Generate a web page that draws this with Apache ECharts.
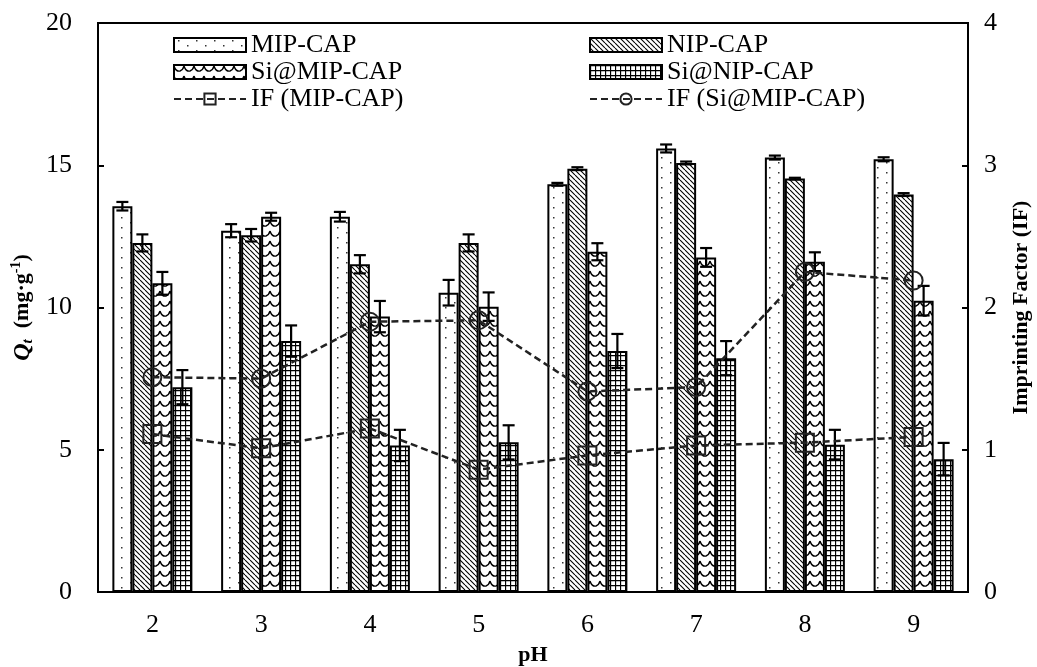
<!DOCTYPE html>
<html>
<head>
<meta charset="utf-8">
<title>Qt vs pH</title>
<script src="https://cdn.jsdelivr.net/npm/echarts@6/dist/echarts.min.js"></script>
<style>
  html, body { margin: 0; padding: 0; background: #fff; }
  #chart { width: 1037px; height: 667px; }
</style>
</head>
<body>
<div id="chart"></div>
<script>
// 데이터
const categories = ['2', '3', '4', '5', '6', '7', '8', '9'];
const mipCap = [13.56, 12.70, 13.19, 10.52, 14.33, 15.59, 15.27, 15.21];
const mipCapErr = [0.15, 0.23, 0.17, 0.45, 0.05, 0.14, 0.07, 0.07];
const nipCap = [12.27, 12.54, 11.52, 12.27, 14.88, 15.08, 14.53, 13.97];
const nipCapErr = [0.30, 0.22, 0.32, 0.30, 0.05, 0.05, 0.03, 0.05];
const siMipCap = [10.85, 13.19, 9.68, 10.03, 11.96, 11.76, 11.61, 10.24];
const siMipCapErr = [0.40, 0.14, 0.55, 0.50, 0.30, 0.33, 0.33, 0.52];
const siNipCap = [7.20, 8.82, 5.15, 5.26, 8.47, 8.22, 5.18, 4.67];
const siNipCapErr = [0.60, 0.55, 0.55, 0.60, 0.60, 0.60, 0.52, 0.57];
const ifMip = [1.11, 1.01, 1.15, 0.86, 0.96, 1.03, 1.05, 1.09];
const ifSiMip = [1.51, 1.50, 1.90, 1.91, 1.41, 1.44, 2.25, 2.19];

const FONT = '"Liberation Serif", "Times New Roman", serif';
const BAR_W = 20;

// 패턴 생성 (캔버스 타일)
function makePattern(w, h, draw) {
    const c = document.createElement('canvas');
    c.width = w;
    c.height = h;
    const ctx = c.getContext('2d');
    ctx.fillStyle = '#fff';
    ctx.fillRect(0, 0, w, h);
    ctx.strokeStyle = '#000';
    ctx.fillStyle = '#000';
    draw(ctx, w, h);
    return { image: c, repeat: 'repeat' };
}

const dotPattern = makePattern(18, 10, ctx => {
    ctx.fillStyle = '#333';
    ctx.fillRect(4, 2, 1.5, 1.5);
    ctx.fillRect(13, 7, 1.5, 1.5);
});

const diagPattern = makePattern(5, 5, ctx => {
    ctx.lineWidth = 1.1;
    ctx.beginPath();
    for (let k = -5; k <= 5; k += 5) {
        ctx.moveTo(k, 0);
        ctx.lineTo(k + 5, 5);
    }
    ctx.stroke();
});

// 물결 모양 (Si@MIP-CAP)
const wavePattern = makePattern(10, 10, ctx => {
    ctx.lineWidth = 1.4;
    ctx.beginPath();
    ctx.moveTo(0, 1);
    ctx.quadraticCurveTo(2, 7, 6, 6);
    ctx.quadraticCurveTo(9, 5, 10, 1);
    ctx.stroke();
});

const gridPattern = makePattern(5, 5, ctx => {
    ctx.lineWidth = 1.3;
    ctx.beginPath();
    ctx.moveTo(0.5, 0);
    ctx.lineTo(0.5, 5);
    ctx.moveTo(0, 0.5);
    ctx.lineTo(5, 0.5);
    ctx.stroke();
});

function barSeries(name, values, pattern) {
    return {
        name: name,
        type: 'bar',
        data: values,
        barWidth: BAR_W,
        barGap: '0%',
        itemStyle: { color: pattern, borderColor: '#000', borderWidth: 2 },
        z: 2
    };
}

// 오차 막대 (custom series)
function errorSeries(values, errs, idx) {
    return {
        type: 'custom',
        name: 'err' + idx,
        silent: true,
        z: 3,
        renderItem(params, api) {
            const c = api.value(0);
            const v = api.value(1);
            const e = api.value(2);
            const x = api.coord([c, v])[0] + (idx - 1.5) * BAR_W;
            const yTop = api.coord([c, v + e])[1];
            const yBot = api.coord([c, v - e])[1];
            const style = { stroke: '#000', lineWidth: 2.2 };
            return {
                type: 'group',
                children: [
                    { type: 'line', shape: { x1: x, y1: yTop, x2: x, y2: yBot }, style },
                    { type: 'line', shape: { x1: x - 6, y1: yTop, x2: x + 6, y2: yTop }, style },
                    { type: 'line', shape: { x1: x - 6, y1: yBot, x2: x + 6, y2: yBot }, style }
                ]
            };
        },
        data: values.map((v, i) => [i, v, errs[i]])
    };
}

function lineSeries(name, values, symbol) {
    return {
        name: name,
        type: 'line',
        yAxisIndex: 1,
        data: values,
        symbol: symbol,
        symbolSize: 18,
        lineStyle: { color: '#222', width: 2.5, type: [7, 4] },
        itemStyle: { color: 'rgba(0,0,0,0)', borderColor: '#222', borderWidth: 2 },
        z: 5
    };
}

const legendText = { fontFamily: FONT, fontSize: 26, color: '#000' };

function legendColumn(names, left) {
    return {
        data: names.map(n => (n.startsWith('IF') ? { name: n } : { name: n, icon: 'rect' })),
        orient: 'vertical', left: left, top: 32, padding: 0,
        itemWidth: 72, itemHeight: 14, itemGap: 1,
        textStyle: legendText, selectedMode: false
    };
}

const chart = echarts.init(document.getElementById('chart'));

const option = {
    animation: false,
    backgroundColor: '#fff',
    grid: {
        left: 98, right: 69, top: 23, bottom: 75,
        show: true, borderColor: '#000', borderWidth: 2,
        containLabel: false, outerBoundsMode: 'none'
    },
    legend: [
        legendColumn(['MIP-CAP', 'Si@MIP-CAP', 'IF (MIP-CAP)'], 173),
        legendColumn(['NIP-CAP', 'Si@NIP-CAP', 'IF (Si@MIP-CAP)'], 589)
    ],
    xAxis: {
        type: 'category',
        data: categories,
        name: 'pH',
        nameLocation: 'middle',
        nameGap: 52,
        nameTextStyle: { fontFamily: FONT, fontSize: 22, fontWeight: 'bold', color: '#000' },
        axisLine: { lineStyle: { color: '#000', width: 2 } },
        axisTick: { show: false },
        axisLabel: { fontFamily: FONT, fontSize: 26, color: '#000', margin: 20 }
    },
    yAxis: [
        {
            type: 'value',
            min: 0, max: 20, interval: 5,
            name: '{qi|Q}{sub|t}{n|  (mg·g}{sup|-1}{n|)}',
            nameLocation: 'middle',
            nameRotate: 90,
            nameGap: 62,
            nameMoveOverlap: false,
            nameTextStyle: {
                fontFamily: FONT, fontSize: 22, fontWeight: 'bold', color: '#000',
                rich: {
                    qi: { fontFamily: FONT, fontSize: 24, fontWeight: 'bold', fontStyle: 'italic', color: '#000' },
                    sub: { fontFamily: FONT, fontSize: 15, fontWeight: 'bold', fontStyle: 'italic', color: '#000', padding: [12, 0, 0, 0] },
                    n: { fontFamily: FONT, fontSize: 22, fontWeight: 'bold', color: '#000' },
                    sup: { fontFamily: FONT, fontSize: 14, fontWeight: 'bold', color: '#000', padding: [0, 0, 12, 0] }
                }
            },
            axisLine: { show: true, lineStyle: { color: '#000', width: 2 } },
            axisTick: { show: true, inside: true, length: 6, lineStyle: { color: '#000', width: 2 } },
            axisLabel: { fontFamily: FONT, fontSize: 26, color: '#000', margin: 26 },
            splitLine: { show: false }
        },
        {
            type: 'value',
            min: 0, max: 4, interval: 1,
            position: 'right',
            name: 'Imprinting Factor (IF)',
            nameLocation: 'middle',
            nameRotate: 90,
            nameGap: 42,
            nameMoveOverlap: false,
            nameTextStyle: { fontFamily: FONT, fontSize: 22, fontWeight: 'bold', color: '#000' },
            axisLine: { show: true, lineStyle: { color: '#000', width: 2 } },
            axisTick: { show: true, inside: true, length: 6, lineStyle: { color: '#000', width: 2 } },
            axisLabel: { fontFamily: FONT, fontSize: 26, color: '#000', margin: 16 },
            splitLine: { show: false }
        }
    ],
    series: [
        barSeries('MIP-CAP', mipCap, dotPattern),
        barSeries('NIP-CAP', nipCap, diagPattern),
        barSeries('Si@MIP-CAP', siMipCap, wavePattern),
        barSeries('Si@NIP-CAP', siNipCap, gridPattern),
        errorSeries(mipCap, mipCapErr, 0),
        errorSeries(nipCap, nipCapErr, 1),
        errorSeries(siMipCap, siMipCapErr, 2),
        errorSeries(siNipCap, siNipCapErr, 3),
        lineSeries('IF (MIP-CAP)', ifMip, 'rect'),
        lineSeries('IF (Si@MIP-CAP)', ifSiMip, 'circle')
    ]
};

chart.setOption(option);
</script>
</body>
</html>
